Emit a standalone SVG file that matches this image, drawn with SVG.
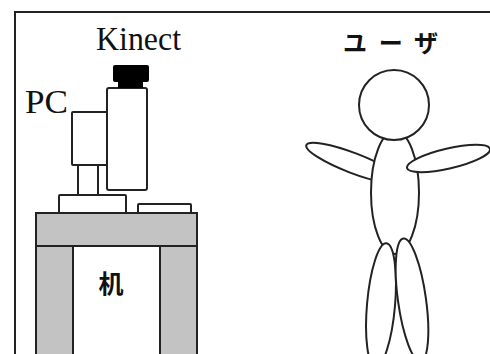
<svg xmlns="http://www.w3.org/2000/svg" width="490" height="354" viewBox="0 0 490 354">
  <style>
    .ln { fill: #fff; stroke: #222; stroke-width: 2; }
    .gr { fill: #c3c3c3; stroke: #222; stroke-width: 2; }
    .lat { font-family: "Liberation Serif", "DejaVu Serif", serif; fill: #111; }
    .jp { font-family: "Noto Sans CJK JP", "Noto Sans", sans-serif; font-weight: bold; fill: #111; }
  </style>
  <rect width="490" height="354" fill="#fff"/>
  <!-- outer frame (runs off right and bottom) -->
  <path d="M15,360 V12 H492" fill="none" stroke="#222" stroke-width="2"/>

  <!-- desk -->
  <g id="desk">
    <rect class="gr" x="36" y="213" width="161" height="33"/>
    <rect class="gr" x="36" y="246" width="37" height="115"/>
    <rect class="gr" x="160" y="246" width="37" height="115"/>
    <text class="jp" x="111" y="293" font-size="25" text-anchor="middle">机</text>
  </g>

  <!-- PC: monitor on stand, keyboard -->
  <g id="pc">
    <rect class="ln" x="59" y="195" width="67" height="18" rx="1"/>
    <rect class="ln" x="78" y="165" width="20" height="30"/>
    <rect class="ln" x="72" y="112" width="35" height="53" rx="1"/>
    <rect class="ln" x="138" y="204" width="53" height="9" rx="1"/>
    <text class="lat" x="25" y="113" font-size="34" textLength="43" lengthAdjust="spacingAndGlyphs">PC</text>
  </g>

  <!-- Kinect sensor on tall box -->
  <g id="kinect">
    <rect class="ln" x="107" y="88" width="40" height="102" rx="2"/>
    <rect x="113" y="65" width="36" height="17" rx="2" fill="#000"/>
    <rect x="118" y="78" width="25" height="10" fill="#000"/>
    <text class="lat" x="96" y="50" font-size="33" textLength="85" lengthAdjust="spacingAndGlyphs">Kinect</text>
  </g>

  <!-- user figure -->
  <g id="user">
    <ellipse class="ln" cx="353" cy="163" rx="50" ry="10" transform="rotate(21 353 163)"/>
    <ellipse class="ln" cx="395" cy="192.5" rx="24" ry="61.5"/>
    <circle class="ln" cx="394" cy="105" r="35"/>
    <ellipse class="ln" cx="448.5" cy="158.5" rx="42.6" ry="10" transform="rotate(-13 448.5 158.5)"/>
    <ellipse class="ln" cx="381" cy="305" rx="14" ry="62" transform="rotate(5 381 305)"/>
    <ellipse class="ln" cx="412" cy="300" rx="14" ry="62" transform="rotate(-8 412 300)"/>
    <text class="jp" x="343" y="52" font-size="24" textLength="95" lengthAdjust="spacing">ユーザ</text>
  </g>
</svg>
